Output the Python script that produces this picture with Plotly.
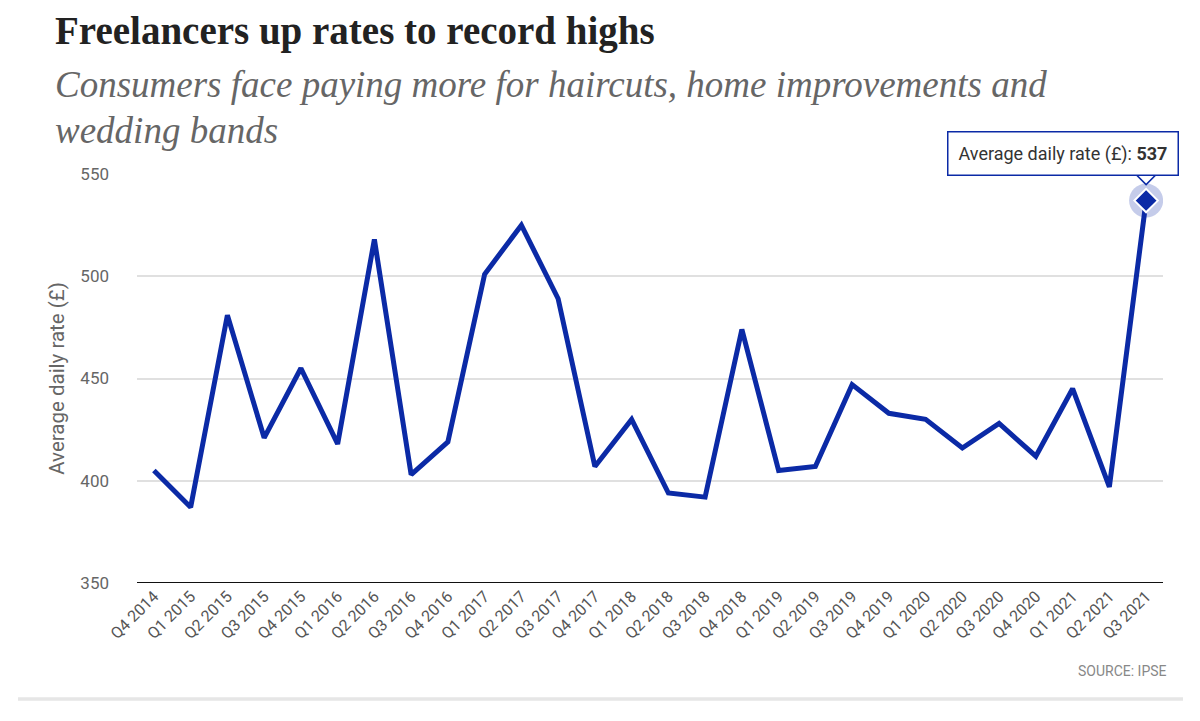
import plotly.graph_objects as go

quarters = ["Q4 2014", "Q1 2015", "Q2 2015", "Q3 2015", "Q4 2015", "Q1 2016", "Q2 2016",
            "Q3 2016", "Q4 2016", "Q1 2017", "Q2 2017", "Q3 2017", "Q4 2017", "Q1 2018",
            "Q2 2018", "Q3 2018", "Q4 2018", "Q1 2019", "Q2 2019", "Q3 2019", "Q4 2019",
            "Q1 2020", "Q2 2020", "Q3 2020", "Q4 2020", "Q1 2021", "Q2 2021", "Q3 2021"]
daily_rate = [405, 387, 481, 421, 455, 418, 518, 403, 419, 501, 525, 489, 407, 430,
              394, 392, 474, 405, 407, 447, 433, 430, 416, 428, 412, 445, 397, 537]
y_ticks = [350, 400, 450, 500, 550]

LINE = "#0b2aa6"
SANS = "Roboto, Arial, sans-serif"
SERIF = "Liberation Serif, DejaVu Serif, serif"

fig = go.Figure()
fig.add_trace(go.Scatter(x=quarters, y=daily_rate, mode="lines",
                         line=dict(color=LINE, width=5), hoverinfo="skip"))
# highlighted last point: halo + diamond
fig.add_trace(go.Scatter(x=[quarters[-1]], y=[daily_rate[-1]], mode="markers",
                         marker=dict(size=34, color="rgba(11,42,166,0.24)"), hoverinfo="skip"))
fig.add_trace(go.Scatter(x=[quarters[-1]], y=[daily_rate[-1]], mode="markers",
                         marker=dict(symbol="diamond", size=18, color=LINE,
                                     line=dict(color="white", width=2)), hoverinfo="skip"))

fig.update_layout(
    width=1200, height=721, showlegend=False,
    paper_bgcolor="white", plot_bgcolor="white",
    margin=dict(l=129, r=45, t=166, b=146),
    xaxis=dict(type="category", range=[-0.46, len(quarters) - 0.54], tickangle=-45,
               showgrid=False, showline=False, ticks="", automargin=False,
               tickfont=dict(family=SANS, size=16, color="#555555")),
    yaxis=dict(range=[350, 550], tickvals=y_ticks, showgrid=True, gridcolor="#e0e0e0",
               gridwidth=1.5, zeroline=False, showline=False, ticks="", ticklabelstandoff=27,
               automargin=False,
               tickfont=dict(family=SANS, size=17, color="#666666"),
               title=dict(text="Average daily rate (£)", standoff=10,
                          font=dict(family=SANS, size=20.5, color="#666666"))),
)
# baseline
fig.add_shape(type="line", xref="paper", yref="y", x0=0, x1=1, y0=350, y1=350,
              line=dict(color="#111111", width=2))
# title & subtitle
fig.add_annotation(text="<b>Freelancers up rates to record highs</b>",
                   xref="paper", yref="paper", x=-0.082, y=1.4083, xanchor="left", yanchor="top",
                   showarrow=False, font=dict(family=SERIF, size=39, color="#222222"))
fig.add_annotation(text="<i>Consumers face paying more for haircuts, home improvements and</i>",
                   xref="paper", yref="paper", x=-0.082, y=1.2738, xanchor="left", yanchor="top",
                   showarrow=False, font=dict(family=SERIF, size=37, color="#666666"))
fig.add_annotation(text="<i>wedding bands</i>",
                   xref="paper", yref="paper", x=-0.082, y=1.1614, xanchor="left", yanchor="top",
                   showarrow=False, font=dict(family=SERIF, size=37, color="#666666"))
# tooltip pointer (pixel-sized triangle anchored on the last point)
fig.add_shape(type="path", xref="x", yref="y", xsizemode="pixel", ysizemode="pixel",
              xanchor=quarters[-1], yanchor=daily_rate[-1],
              path="M -10 26 L 10 26 L 0 16 Z",
              fillcolor="white", line=dict(color=LINE, width=1.5))
# tooltip box
fig.add_annotation(x=quarters[-1], y=daily_rate[-1], text="Average daily rate (£): <b>537</b>",
                   showarrow=False, xanchor="right", yanchor="bottom", xshift=33, yshift=25,
                   bgcolor="white", bordercolor=LINE, borderwidth=1.5, borderpad=10,
                   font=dict(family=SANS, size=18, color="#333333"))
# source
fig.add_annotation(text="SOURCE: IPSE", xref="paper", yref="paper", x=1.006, y=(583 - 671) / 409,
                   xanchor="right", yanchor="middle", showarrow=False,
                   font=dict(family=SANS, size=14, color="#888888"))
# bottom rule
fig.add_shape(type="line", xref="paper", yref="paper", x0=(18 - 137) / 1026, x1=(1183 - 137) / 1026,
              y0=(583 - 699) / 409, y1=(583 - 699) / 409,
              line=dict(color="#e6e6e6", width=3.5))

fig.write_html("out.html")
